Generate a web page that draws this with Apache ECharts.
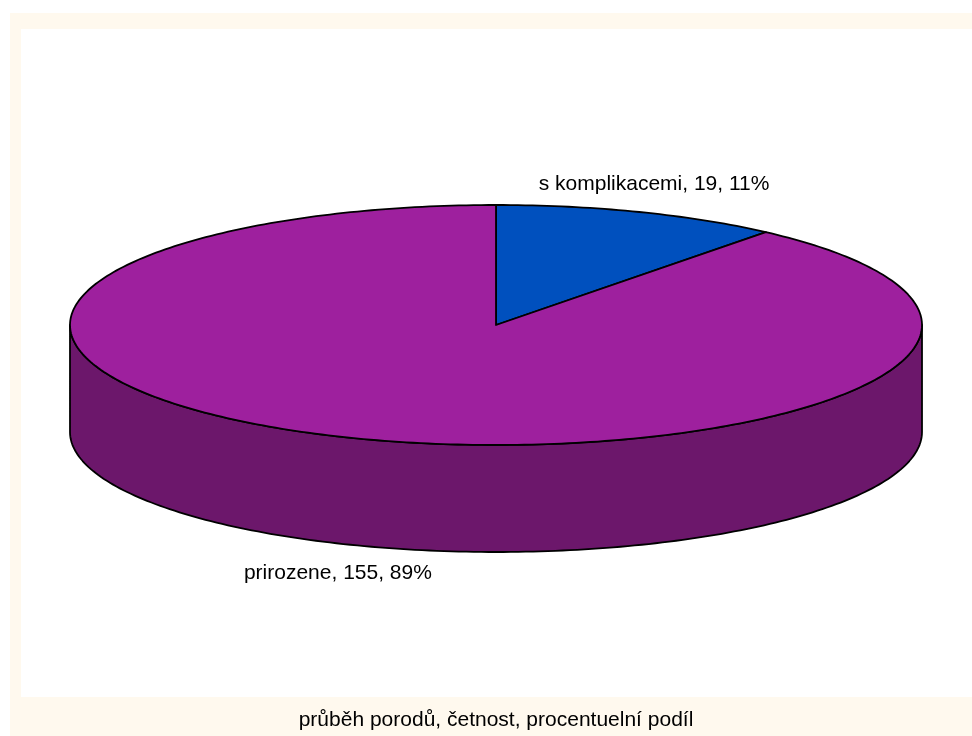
<!DOCTYPE html>
<html>
<head>
<meta charset="utf-8">
<script src="https://cdn.jsdelivr.net/npm/echarts@6/dist/echarts.min.js"></script>
<style>
html,body{margin:0;padding:0;background:#ffffff;}
#chart{width:972px;height:736px;}
</style>
</head>
<body>
<div id="chart"></div>
<script>
// ---- data ----
const categories = ['s komplikacemi', 'prirozene'];
const values = [19, 155];
const titleText = 'průběh porodů, četnost, procentuelní podíl';

// ---- styles ----
const topColors = ['#0050BE', '#9E209E'];
const sideColors = ['#003A8A', '#6C176B'];

const total = values.reduce((a, b) => a + b, 0);
const cumStart = [];
(function () { let c = 0; values.forEach(v => { cumStart.push(c); c += v; }); })();

const chart = echarts.init(document.getElementById('chart'), null, { renderer: 'canvas' });

const geo = { cx: 496, cy: 325, rx: 426, ry: 120, depth: 107, lrx: 470, lry: 150 };

function pt(t, dy) {
  return [geo.cx + geo.rx * Math.sin(t), geo.cy - geo.ry * Math.cos(t) + (dy || 0)];
}
function arc(t0, t1, dy) {
  const pts = [];
  const n = Math.max(4, Math.ceil(Math.abs(t1 - t0) / (Math.PI / 180)));
  for (let i = 0; i <= n; i++) pts.push(pt(t0 + (t1 - t0) * i / n, dy));
  return pts;
}

function renderItem(params, api) {
  const i = params.dataIndex;
  const v = api.value(0);
  const t0 = cumStart[i] / total * Math.PI * 2;
  const t1 = (cumStart[i] + v) / total * Math.PI * 2;
  const children = [];
  // front side (visible between 90deg and 270deg)
  const s0 = Math.max(t0, Math.PI / 2), s1 = Math.min(t1, Math.PI * 1.5);
  if (s1 > s0) {
    const topArc = arc(s0, s1, 0);
    const botArc = arc(s1, s0, geo.depth);
    children.push({
      type: 'polygon',
      shape: { points: topArc.concat(botArc) },
      style: { fill: sideColors[i], stroke: '#000', lineWidth: 1.8, lineJoin: 'round' }
    });
  }
  // top
  const topPts = [[geo.cx, geo.cy]].concat(arc(t0, t1, 0));
  children.push({
    type: 'polygon',
    shape: { points: topPts },
    style: { fill: topColors[i], stroke: '#000', lineWidth: 1.8, lineJoin: 'round' }
  });
  // label
  const tm = (t0 + t1) / 2;
  const front = Math.cos(tm) < 0 ? geo.depth : 0;
  const lx = geo.cx + geo.lrx * Math.sin(tm);
  const ly = geo.cy - geo.lry * Math.cos(tm) + front;
  const pct = Math.round(v / total * 100);
  children.push({
    type: 'text',
    x: lx, y: ly,
    style: {
      text: categories[i] + ', ' + v + ', ' + pct + '%',
      fill: '#000',
      font: '21px "Liberation Sans", Arial, sans-serif',
      align: 'center',
      verticalAlign: 'middle'
    }
  });
  return { type: 'group', children: children };
}

chart.setOption({
  animation: false,
  backgroundColor: '#ffffff',
  graphic: [
    { type: 'rect', z: -10, shape: { x: 10, y: 13, width: 962, height: 723 }, style: { fill: '#FFF9EE' } },
    { type: 'rect', z: -9, shape: { x: 21, y: 29, width: 951, height: 668 }, style: { fill: '#ffffff' } },
    {
      type: 'text', x: 496, y: 720,
      style: {
        text: titleText, fill: '#000',
        font: '21px "Liberation Sans", Arial, sans-serif',
        align: 'center', verticalAlign: 'middle'
      }
    }
  ],
  series: [{
    type: 'custom',
    coordinateSystem: 'none',
    renderItem: renderItem,
    data: values.map((v, i) => ({ name: categories[i], value: [v] }))
  }]
});
</script>
</body>
</html>
